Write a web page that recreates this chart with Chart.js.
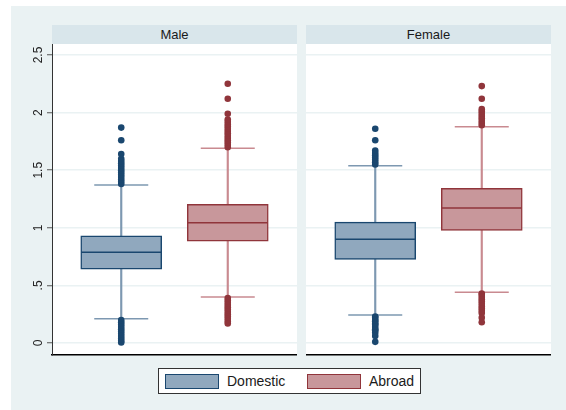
<!DOCTYPE html>
<html>
<head>
<meta charset="utf-8">
<script src="https://cdn.jsdelivr.net/npm/chart.js"></script>
<style>
  html, body { margin: 0; padding: 0; background: #ffffff; }
  body { width: 566px; height: 410px; position: relative; overflow: hidden;
         font-family: "Liberation Sans", Arial, sans-serif; }
  #frame { position: absolute; left: 11px; top: 6px; width: 555px; height: 404px; background: #EAF2F3; }
  .strip { position: absolute; top: 25px; height: 19px; width: 245px; background: #D9E6EB;
           font-size: 13px; color: #1a1a1a; text-align: center; line-height: 19px; }
  canvas { position: absolute; }
  #legend { position: absolute; left: 158px; top: 368px; width: 263px; height: 26px; box-sizing: border-box;
            background: #ffffff; border: 1px solid #333333; }
  .swatch { position: absolute; top: 5px; width: 54px; height: 15px; box-sizing: border-box; border: 1.5px solid; }
  .key { position: absolute; top: 0; line-height: 24px; font-size: 14px; color: #1a1a1a; }
</style>
</head>
<body>
<div id="frame"></div>
<div class="strip" id="stripMale" style="left:52px"></div>
<div class="strip" id="stripFemale" style="left:306px"></div>
<canvas id="male" width="286" height="320" style="left:11px; top:40px"></canvas>
<canvas id="female" width="245" height="320" style="left:306px; top:40px"></canvas>
<div id="legend">
  <div class="swatch" id="sw0" style="left:6px"></div><div class="key" id="key0" style="left:68px"></div>
  <div class="swatch" id="sw1" style="left:148px"></div><div class="key" id="key1" style="left:210px"></div>
</div>
<script>
// ---- data ----
const panels = ['Male', 'Female'];
const groups = ['Domestic', 'Abroad'];
const yTicks = [0, 0.5, 1, 1.5, 2, 2.5];
const yTickLabels = ['0', '.5', '1', '1.5', '2', '2.5'];

// box statistics, one value per group (Domestic, Abroad)
const maleLowerWhisker = [0.211, 0.399];
const maleQ1           = [0.642, 0.883];
const maleMedian       = [0.787, 1.044];
const maleQ3           = [0.931, 1.204];
const maleUpperWhisker = [1.371, 1.690];

const femaleLowerWhisker = [0.243, 0.440];
const femaleQ1           = [0.726, 0.978];
const femaleMedian       = [0.900, 1.172];
const femaleQ3           = [1.050, 1.343];
const femaleUpperWhisker = [1.539, 1.878];

// outside values
const maleDomesticOutliers = [1.38, 1.40, 1.42, 1.44, 1.46, 1.48, 1.50, 1.52, 1.54, 1.56, 1.58, 1.60, 1.64, 1.76, 1.87,
  0.20, 0.18, 0.16, 0.14, 0.12, 0.10, 0.08, 0.06, 0.04, 0.02, 0.005];
const maleAbroadOutliers = [1.70, 1.72, 1.74, 1.76, 1.78, 1.80, 1.82, 1.84, 1.86, 1.88, 1.90, 1.92, 1.94, 1.99, 2.12, 2.25,
  0.39, 0.37, 0.35, 0.33, 0.31, 0.29, 0.27, 0.25, 0.23, 0.21, 0.19, 0.17];
const femaleDomesticOutliers = [1.55, 1.57, 1.59, 1.61, 1.63, 1.65, 1.67, 1.76, 1.86,
  0.23, 0.22, 0.20, 0.19, 0.17, 0.16, 0.14, 0.12, 0.11, 0.09, 0.06, 0.01];
const femaleAbroadOutliers = [1.89, 1.91, 1.93, 1.95, 1.97, 1.99, 2.01, 2.03, 2.12, 2.23,
  0.43, 0.42, 0.40, 0.38, 0.36, 0.34, 0.32, 0.30, 0.28, 0.26, 0.22, 0.18];

// ---- styling ----
const fillColors    = ['#90A8BE', '#C8979B'];
const edgeColors    = ['#1A476F', '#90353B'];
const whiskerColors = ['#7D98B1', '#C98A90'];
const dotColors     = ['#1A476F', '#90353B'];

Chart.defaults.font.family = '"Liberation Sans", Arial, sans-serif';
Chart.defaults.animation = false;

document.getElementById('stripMale').textContent = panels[0];
document.getElementById('stripFemale').textContent = panels[1];
groups.forEach((g, i) => {
  const sw = document.getElementById('sw' + i);
  sw.style.background = fillColors[i];
  sw.style.borderColor = edgeColors[i];
  document.getElementById('key' + i).textContent = g;
});

const plotBackground = {
  id: 'plotBackground',
  beforeDraw(chart) {
    const a = chart.chartArea, c = chart.ctx;
    c.save();
    c.fillStyle = '#ffffff';
    c.fillRect(a.left, a.top, a.right - a.left, a.bottom - a.top);
    c.restore();
  }
};

function panelDatasets(lowW, q1, med, q3, upW, outliers) {
  const pos = groups.map((g, i) => i + 1);
  const sets = [];
  groups.forEach((g, i) => {
    sets.push({
      type: 'scatter', label: g + ' outside values', order: 0,
      data: outliers[i].map(v => ({ x: pos[i], y: v })),
      pointRadius: 3.3, pointBorderWidth: 0, pointBackgroundColor: dotColors[i]
    });
  });
  sets.push({
    type: 'scatter', label: 'median', order: 1,
    data: groups.map((g, i) => ({ x: pos[i], y: med[i] })),
    pointStyle: 'line', pointRadius: 40, pointBorderWidth: 1.5, pointBorderColor: edgeColors
  });
  sets.push({
    type: 'scatter', label: 'whisker caps', order: 2,
    data: groups.flatMap((g, i) => [{ x: pos[i], y: lowW[i] }, { x: pos[i], y: upW[i] }]),
    pointStyle: 'line', pointRadius: 27, pointBorderWidth: 1.5,
    pointBorderColor: groups.flatMap((g, i) => [whiskerColors[i], whiskerColors[i]])
  });
  sets.push({
    type: 'bar', label: 'box', order: 3, grouped: false,
    data: groups.map((g, i) => ({ x: pos[i], y: [q1[i], q3[i]] })),
    backgroundColor: fillColors, borderColor: edgeColors, borderWidth: 1.5,
    borderSkipped: false, barThickness: 81
  });
  sets.push({
    type: 'bar', label: 'whisker', order: 4, grouped: false,
    data: groups.map((g, i) => ({ x: pos[i], y: [lowW[i], upW[i]] })),
    backgroundColor: whiskerColors, borderWidth: 0, barThickness: 1.5
  });
  return sets;
}

function panelOptions(withAxis) {
  return {
    responsive: false,
    animation: false,
    events: [],
    layout: { autoPadding: false, padding: { top: 4, bottom: 5, left: 0, right: 0 } },
    plugins: { legend: { display: false }, tooltip: { enabled: false }, title: { display: false } },
    scales: {
      x: {
        type: 'linear', min: 0.35, max: 2.65, offset: false,
        grid: { display: false, drawTicks: false },
        ticks: { display: false },
        border: { display: true, color: '#000000', width: 1.5 },
        afterFit(s) { s.height = 0; s.paddingLeft = 0; s.paddingRight = 0; }
      },
      y: {
        type: 'linear', min: -0.104, max: 2.5955,
        afterBuildTicks(s) { s.ticks = yTicks.map(v => ({ value: v })); },
        grid: { color: '#EAF2F3', lineWidth: 1.5, drawTicks: withAxis, tickLength: 5, tickColor: '#555555', tickWidth: 1 },
        border: { display: withAxis, color: '#333333', width: 1 },
        ticks: {
          display: withAxis, minRotation: 90, maxRotation: 90, crossAlign: 'center', padding: 0,
          color: '#222222', font: { size: 12 },
          callback(v) { const k = yTicks.indexOf(v); return k >= 0 ? yTickLabels[k] : ''; }
        },
        afterFit(s) { s.width = withAxis ? 41 : 0; s.paddingTop = 0; s.paddingBottom = 0; }
      }
    }
  };
}

new Chart(document.getElementById('male'), {
  type: 'bar',
  data: { datasets: panelDatasets(maleLowerWhisker, maleQ1, maleMedian, maleQ3, maleUpperWhisker,
                                  [maleDomesticOutliers, maleAbroadOutliers]) },
  options: panelOptions(true),
  plugins: [plotBackground]
});

new Chart(document.getElementById('female'), {
  type: 'bar',
  data: { datasets: panelDatasets(femaleLowerWhisker, femaleQ1, femaleMedian, femaleQ3, femaleUpperWhisker,
                                  [femaleDomesticOutliers, femaleAbroadOutliers]) },
  options: panelOptions(false),
  plugins: [plotBackground]
});
</script>
</body>
</html>
